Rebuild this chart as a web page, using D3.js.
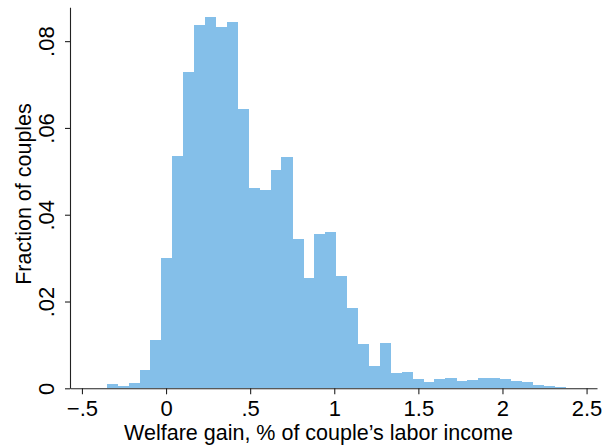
<!DOCTYPE html>
<html>
<head>
<meta charset="utf-8">
<script src="https://cdn.jsdelivr.net/npm/d3@7"></script>
<style>
  html, body { margin: 0; padding: 0; background: #fff; }
  text { font-family: "Liberation Sans", Arial, Helvetica, sans-serif; fill: #000; }
</style>
</head>
<body>
<div id="Histogram"></div>
<script>
// Histogram bins: left edge of each bin and fraction of couples in it
const binWidth = 0.0649;
const binLeft = [-0.3526, -0.2877, -0.2227, -0.1578, -0.0929, -0.0280, 0.0370, 0.1019,
  0.1668, 0.2318, 0.2967, 0.3616, 0.4266, 0.4915, 0.5564, 0.6214, 0.6863, 0.7512,
  0.8161, 0.8811, 0.9460, 1.0109, 1.0759, 1.1408, 1.2057, 1.2707, 1.3356, 1.4005,
  1.4654, 1.5304, 1.5953, 1.6602, 1.7252, 1.7901, 1.8550, 1.9200, 1.9849, 2.0498,
  2.1147, 2.1797, 2.2446, 2.3095];
const fraction = [0.0010, 0.0005, 0.0013, 0.0042, 0.0111, 0.0300, 0.0536, 0.0730,
  0.0838, 0.0855, 0.0832, 0.0845, 0.0644, 0.0461, 0.0457, 0.0503, 0.0533, 0.0343,
  0.0254, 0.0356, 0.0360, 0.0258, 0.0184, 0.0101, 0.0051, 0.0104, 0.0036, 0.0037,
  0.0021, 0.0014, 0.0022, 0.0023, 0.0016, 0.0018, 0.0024, 0.0024, 0.0022, 0.0017,
  0.0015, 0.0008, 0.0005, 0.0002];

const xTicks = [-0.5, 0, 0.5, 1, 1.5, 2, 2.5];
const xTickLabels = ["\u2212.5", "0", ".5", "1", "1.5", "2", "2.5"];
const yTicks = [0, 0.02, 0.04, 0.06, 0.08];
const yTickLabels = ["0", ".02", ".04", ".06", ".08"];

const xTitle = "Welfare gain, % of couple\u2019s labor income";
const yTitle = "Fraction of couples";

const bins = binLeft.map((x0, i) => ({x0: x0, x1: x0 + binWidth, value: fraction[i]}));

const width = 613, height = 448;
const plotLeft = 70, plotRight = 597, plotTop = 7.3, plotBottom = 388.3;

const svg = d3.select("#Histogram")
    .append("svg")
    .attr("width", width)
    .attr("height", height);

svg.append("rect")
    .attr("width", width)
    .attr("height", height)
    .attr("fill", "#fff");

const x = d3.scaleLinear()
    .domain([-0.571, 2.562])
    .range([plotLeft, plotRight]);

const y = d3.scaleLinear()
    .domain([0, 0.0878])
    .range([plotBottom, plotTop]);

// bars (no outline so neighbouring bins merge like the original)
svg.append("g")
    .attr("shape-rendering", "crispEdges")
    .selectAll("rect")
    .data(bins)
    .enter()
    .append("rect")
        .attr("x", d => x(d.x0))
        .attr("y", d => y(d.value))
        .attr("width", d => x(d.x1) - x(d.x0) + 0.3)
        .attr("height", d => y(0) - y(d.value))
        .attr("fill", "#84bfe9");

// x axis
const xAxis = svg.append("g")
    .attr("transform", `translate(0,${plotBottom})`)
    .call(d3.axisBottom(x)
        .tickValues(xTicks)
        .tickFormat((d, i) => xTickLabels[i])
        .tickSize(6)
        .tickPadding(6)
        .tickSizeOuter(0));
xAxis.select(".domain").attr("stroke", "#222").attr("stroke-width", 1.1);
xAxis.selectAll(".tick line").attr("stroke", "#222").attr("stroke-width", 1.1);
xAxis.selectAll("text")
    .style("font-size", "22px")
    .attr("fill", "#000");

// y axis
const yAxis = svg.append("g")
    .attr("transform", `translate(${plotLeft},0)`)
    .call(d3.axisLeft(y)
        .tickValues(yTicks)
        .tickFormat((d, i) => yTickLabels[i])
        .tickSize(5)
        .tickSizeOuter(0));
yAxis.select(".domain").attr("stroke", "#222").attr("stroke-width", 1.1);
yAxis.selectAll(".tick line").attr("stroke", "#222").attr("stroke-width", 1.1);
yAxis.selectAll("text")
    .attr("x", null)
    .attr("dy", null)
    .attr("text-anchor", "middle")
    .attr("transform", "translate(-16,0) rotate(-90)")
    .style("font-size", "22px")
    .attr("fill", "#000");

// axis titles
svg.append("text")
    .attr("x", (plotLeft + plotRight) / 2 - 15)
    .attr("y", 440)
    .attr("text-anchor", "middle")
    .style("font-size", "21.5px")
    .text(xTitle);

svg.append("text")
    .attr("transform", `translate(31,194) rotate(-90)`)
    .attr("text-anchor", "middle")
    .style("font-size", "21.5px")
    .text(yTitle);
</script>
</body>
</html>
